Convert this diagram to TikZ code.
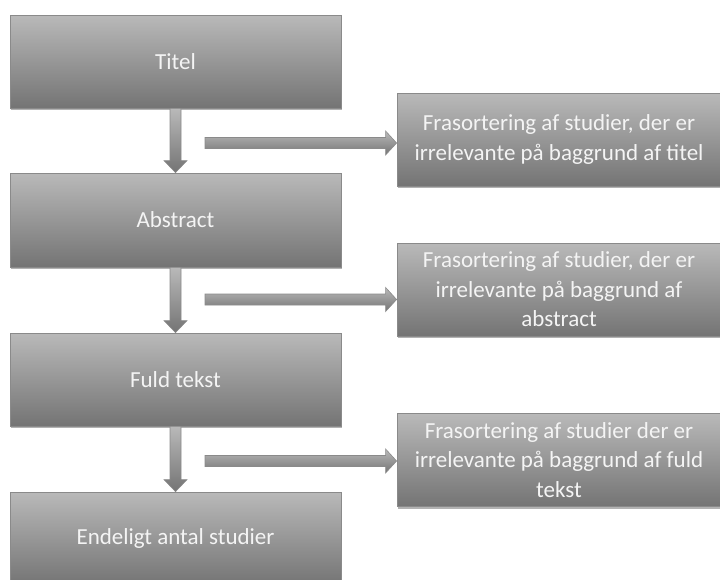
\documentclass[tikz,border=0pt]{standalone}
\usepackage{fontspec}
\setmainfont{Carlito}
\usetikzlibrary{calc,shadows}
\definecolor{boksTop}{HTML}{B9B9B9}
\definecolor{boksBund}{HTML}{747474}
\definecolor{boksKant}{HTML}{8A8A8A}
\definecolor{boksTekst}{HTML}{F4F4F4}

\begin{document}
\begin{tikzpicture}[x=1pt, y=-1pt,
  boks/.style={draw=boksKant, line width=0.8pt, top color=boksTop, bottom color=boksBund,
    text=boksTekst, font=\fontsize{23}{29.5}\selectfont, align=center,
    minimum height=93pt, inner sep=0pt,
    drop shadow={shadow xshift=1pt, shadow yshift=-2pt, opacity=0.3, fill=black}},
  venstre/.style={boks, minimum width=331pt},
  hoejre/.style={boks, minimum width=324pt},
  pil/.style={draw=boksKant, line width=0.6pt, top color=boksTop, bottom color=boksBund},
  ned/.style={pil, to path={($(\tikztostart)+(-5.5,0)$) -- ($(\tikztotarget)+(-5.5,-12)$)
    -- ($(\tikztotarget)+(-11.5,-12)$) -- (\tikztotarget) -- ($(\tikztotarget)+(11.5,-12)$)
    -- ($(\tikztotarget)+(5.5,-12)$) -- ($(\tikztostart)+(5.5,0)$) -- cycle}},
  hen/.style={pil, to path={($(\tikztostart)+(0,-5.5)$) -- ($(\tikztotarget)+(-11,-5.5)$)
    -- ($(\tikztotarget)+(-11,-12)$) -- (\tikztotarget) -- ($(\tikztotarget)+(-11,12)$)
    -- ($(\tikztotarget)+(-11,5.5)$) -- ($(\tikztostart)+(0,5.5)$) -- cycle}}]
\newcommand{\midX}{175.5}
\newcommand{\pilX}{205}
\useasboundingbox (0,0) rectangle (720,579);

% left column
\node[venstre] (titel) at (\midX, 61.5) {Titel};
\node[venstre, minimum height=94pt] (abstract) at (\midX, 220) {Abstract};
\node[venstre] (fuld) at (\midX, 379.5) {Fuld tekst};
\node[venstre] (endeligt) at (\midX, 538.5) {Endeligt antal studier};
%

% right column
\node[hoejre] (sort1) at (559, 139.5) {Frasortering af studier, der er\\irrelevante på baggrund af titel};
\node[hoejre] (sort2) at (559, 289.5) {Frasortering af studier, der er\\irrelevante på baggrund af\\abstract};
\node[hoejre] (sort3) at (559, 460) {Frasortering af studier der er\\irrelevante på baggrund af fuld\\tekst};
%

% arrows
\coordinate (h1) at (\pilX, 143);
\coordinate (h2) at (\pilX, 299.5);
\coordinate (h3) at (\pilX, 461);
\path[ned] (titel.south) to (abstract.north);
\path[ned] (abstract.south) to (fuld.north);
\path[ned] (fuld.south) to (endeligt.north);
\path[hen] (h1) to (h1 -| sort1.west);
\path[hen] (h2) to (h2 -| sort2.west);
\path[hen] (h3) to (h3 -| sort3.west);
%
\end{tikzpicture}
\end{document}
